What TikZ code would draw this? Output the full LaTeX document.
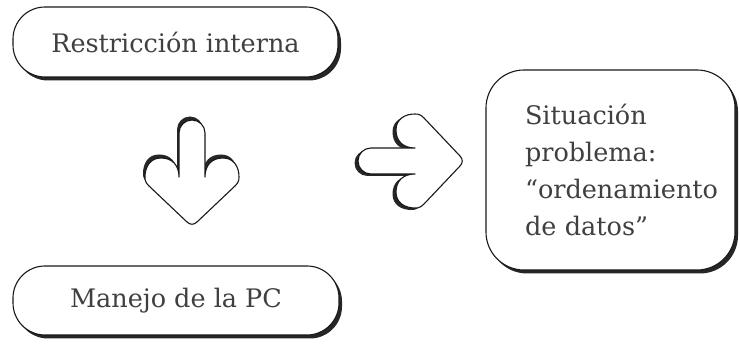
\documentclass[tikz,border=0pt]{standalone}
\usepackage{fontspec}
\setmainfont{DejaVu Serif}
\usetikzlibrary{shadows}
\newcommand\blockarrowpath{(-13,48) -- (-13,92) arc[start angle=180, end angle=0, radius=13] -- (13,48)
 .. controls (13,60) and (20,67) .. (31,67)
 .. controls (42,67) and (47,58) .. (47,48)
 .. controls (47,44) and (46,42) .. (43,39)
 -- (5,3) .. controls (2,0) and (-2,0) .. (-5,3)
 -- (-43,39) .. controls (-46,42) and (-47,44) .. (-47,48)
 .. controls (-47,58) and (-42,67) .. (-31,67)
 .. controls (-20,67) and (-13,60) .. (-13,48) -- cycle}
\begin{document}
\begin{tikzpicture}[x=1pt,y=1pt,
  txt/.style={text=black!75, font=\fontsize{25.5}{36.7}\selectfont},
  boxshadow/.style={drop shadow={shadow xshift=3pt, shadow yshift=-3.5pt, fill=black!85, opacity=1}},
  pill/.style={txt, draw=black!90, line width=1.1pt, fill=white, rounded corners=32pt, boxshadow, inner sep=0pt},
  bigbox/.style={txt, draw=black!90, line width=1.1pt, fill=white, rounded corners=38pt, boxshadow, align=left},
  arrowshadow/.style={fill=black!85, draw=none},
  arrowbody/.style={fill=white, draw=black!90, line width=1.1pt, line join=round}]
\useasboundingbox (0,0) rectangle (740,345);
\node[pill, minimum width=325pt, minimum height=70pt] (top) at (175.5,303) {Restricción interna};
\node[pill, minimum width=326pt, minimum height=69pt] (bottom) at (176,44.5) {Manejo de la PC};
\node[bigbox, minimum width=249pt, minimum height=200pt, text width=171pt, inner xsep=39pt] (sit) at (610.5,175)
  {Situación\\problema:\\“ordenamiento\\de datos”};
% down arrow
\begin{scope}[shift={(192,120)}]
  \fill[arrowshadow, shift={(-2,3.5)}] \blockarrowpath;
  \draw[arrowbody] \blockarrowpath;
\end{scope}
% right arrow
\begin{scope}[shift={(463,184)}, rotate=90]
  \fill[arrowshadow, shift={(-2,3.5)}] \blockarrowpath;
  \draw[arrowbody] \blockarrowpath;
\end{scope}
\end{tikzpicture}
\end{document}
